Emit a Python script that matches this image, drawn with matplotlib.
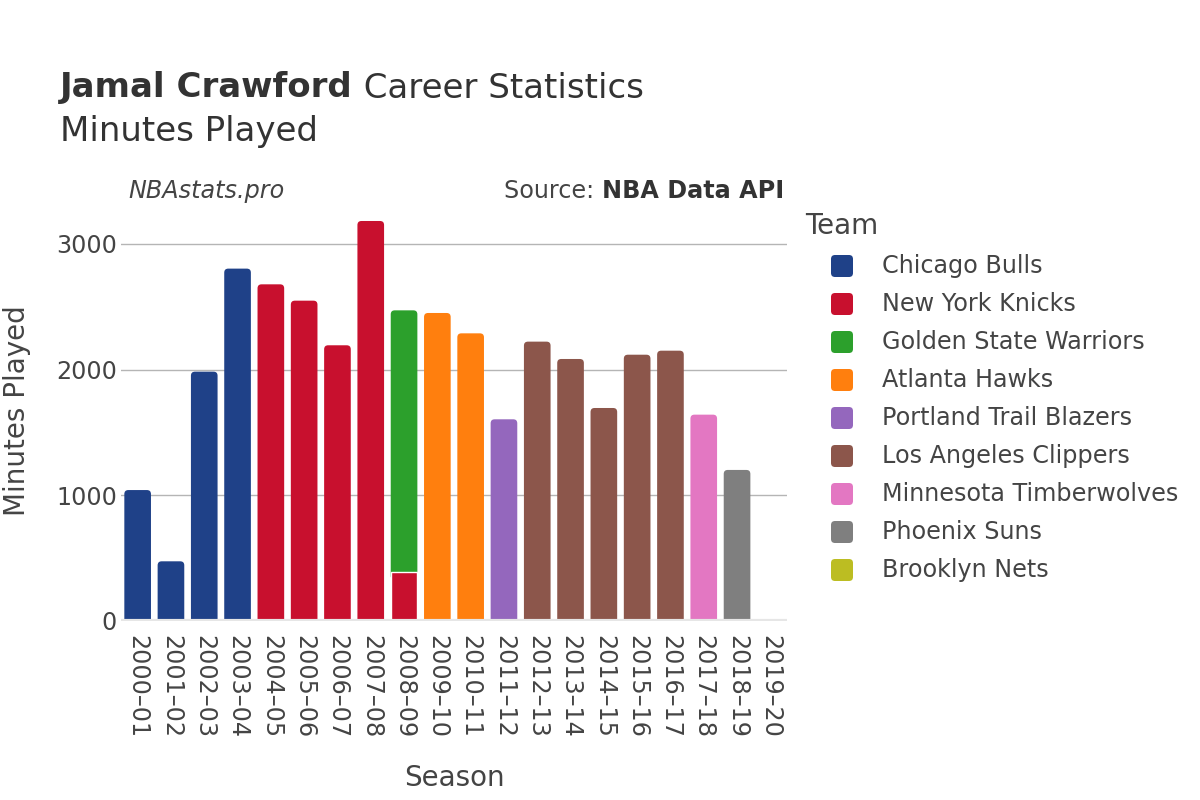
import matplotlib
matplotlib.use("Agg")
import matplotlib.pyplot as plt
from matplotlib.patches import FancyBboxPatch

plt.rcParams['font.family'] = ['DejaVu Sans']

seasons = ["2000–01", "2001–02", "2002–03", "2003–04", "2004–05", "2005–06",
           "2006–07", "2007–08", "2008–09", "2009–10", "2010–11", "2011–12",
           "2012–13", "2013–14", "2014–15", "2015–16", "2016–17", "2017–18",
           "2018–19", "2019–20"]

teams = ["Chicago Bulls", "New York Knicks", "Golden State Warriors", "Atlanta Hawks",
         "Portland Trail Blazers", "Los Angeles Clippers", "Minnesota Timberwolves",
         "Phoenix Suns", "Brooklyn Nets"]
team_colors = ["#1f4188", "#c8102e", "#2ca02c", "#ff7f0e", "#9467bd",
               "#8c564b", "#e377c2", "#7f7f7f", "#bcbd22"]

# (season index, team index, minutes) in stacking order
rows_season = [0, 1, 2, 3, 4, 5, 6, 7, 8, 8, 9, 10, 11, 12, 13, 14, 15, 16, 17, 18, 19]
rows_team   = [0, 0, 0, 0, 1, 1, 1, 1, 1, 2, 3, 3, 4, 5, 5, 5, 5, 5, 6, 7, 8]
rows_min    = [1042, 475, 1984, 2804, 2679, 2549, 2194, 3183, 387, 2085, 2451, 2289,
               1605, 2223, 2085, 1695, 2119, 2151, 1642, 1202, 6]

W, H = 1200, 800
fig = plt.figure(figsize=(12, 8), dpi=100)
ax_l, ax_r, ax_b, ax_t = 121, 787, 621, 200
ax = fig.add_axes([ax_l / W, 1 - ax_b / H, (ax_r - ax_l) / W, (ax_b - ax_t) / H])

ymax = 3350
ax.set_xlim(-0.5, len(seasons) - 0.5)
ax.set_ylim(0, ymax)

bw = 0.8
px_per_x = (ax_r - ax_l) / len(seasons)
px_per_y = (ax_b - ax_t) / ymax
r_px = 4.0
r_x = r_px / px_per_x
aspect = (1 / px_per_y) / (1 / px_per_x)

bottoms = {}
last_idx = {}
for i, s in enumerate(rows_season):
    last_idx[s] = i
starts = []
for i, (s, m) in enumerate(zip(rows_season, rows_min)):
    b = bottoms.get(s, 0)
    starts.append(b)
    bottoms[s] = b + m

for i, (s, t, m) in enumerate(zip(rows_season, rows_team, rows_min)):
    b = starts[i]
    top = b + m
    color = team_colors[t]
    if i == last_idx[s]:
        ext = 60
        p = FancyBboxPatch((s - bw / 2, b - ext), bw, top - b + ext,
                           boxstyle=f"round,pad=0,rounding_size={r_x}",
                           mutation_aspect=aspect, facecolor=color,
                           edgecolor="none", zorder=2, clip_on=True)
        ax.add_patch(p)
    else:
        ax.bar(s, m + 60, bottom=b - 60, width=bw, color=color, zorder=3,
               edgecolor="white", linewidth=1.0)

for g in [1000, 2000, 3000]:
    ax.axhline(g, color="#b5b5b5", linewidth=1.0, zorder=1)
ax.axhline(0, color="#e6e6e6", linewidth=3, zorder=4)

for sp in ax.spines.values():
    sp.set_visible(False)
ax.set_yticks([0, 1000, 2000, 3000])
ax.set_yticklabels(["0", "1000", "2000", "3000"])
ax.set_xticks(range(len(seasons)))
ax.set_xticklabels(seasons, rotation=-90, va="top", ha="center")
ax.tick_params(axis="both", length=0, labelsize=17.2, labelcolor="#444444")
ax.tick_params(axis="x", pad=10)
ax.tick_params(axis="y", pad=3)

ax.set_xlabel("Season", fontsize=20, color="#444444")
ax.xaxis.set_label_coords(0.5, -(778 - ax_b) / (ax_b - ax_t), transform=ax.transAxes)
ax.xaxis.label.set_va("center")
ax.set_ylabel("Minutes Played", fontsize=20, color="#444444")
ax.yaxis.set_label_coords(-(ax_l - 17) / (ax_r - ax_l), 0.5)
ax.yaxis.label.set_va("center")

def fx(x):
    return x / W

def fy(y):
    return 1 - y / H

t1 = fig.text(fx(60), fy(88), "Jamal Crawford", fontsize=24.5, fontweight="bold",
              color="#333333", va="center", ha="left")
fig.canvas.draw()
bb = t1.get_window_extent()
fig.text(bb.x1 / W, fy(88), " Career Statistics", fontsize=24.5, color="#333333",
         va="center", ha="left")
fig.text(fx(60), fy(132), "Minutes Played", fontsize=24.5, color="#333333",
         va="center", ha="left")

fig.text(fx(128), fy(191), "NBAstats.pro", fontsize=17.2, style="italic",
         color="#444444", va="center", ha="left")
t2 = fig.text(fx(784), fy(191), "NBA Data API", fontsize=17.2, fontweight="bold",
              color="#333333", va="center", ha="right")
fig.canvas.draw()
bb2 = t2.get_window_extent()
fig.text(bb2.x0 / W, fy(191), "Source: ", fontsize=17.2, color="#444444",
         va="center", ha="right")

fig.text(fx(805), fy(226), "Team", fontsize=20, color="#444444", va="center", ha="left")
for k, (name, col) in enumerate(zip(teams, team_colors)):
    yc = 266 + 38 * k
    sq = 22
    p = FancyBboxPatch((fx(831), fy(yc + sq / 2)), sq / W, sq / H,
                       boxstyle=f"round,pad=0,rounding_size={4 / W}",
                       mutation_aspect=W / H, transform=fig.transFigure,
                       facecolor=col, edgecolor="none")
    fig.patches.append(p)
    fig.text(fx(882), fy(yc), name, fontsize=17.2, color="#444444", va="center", ha="left")

fig.savefig("out.png", dpi=100, facecolor="white")
